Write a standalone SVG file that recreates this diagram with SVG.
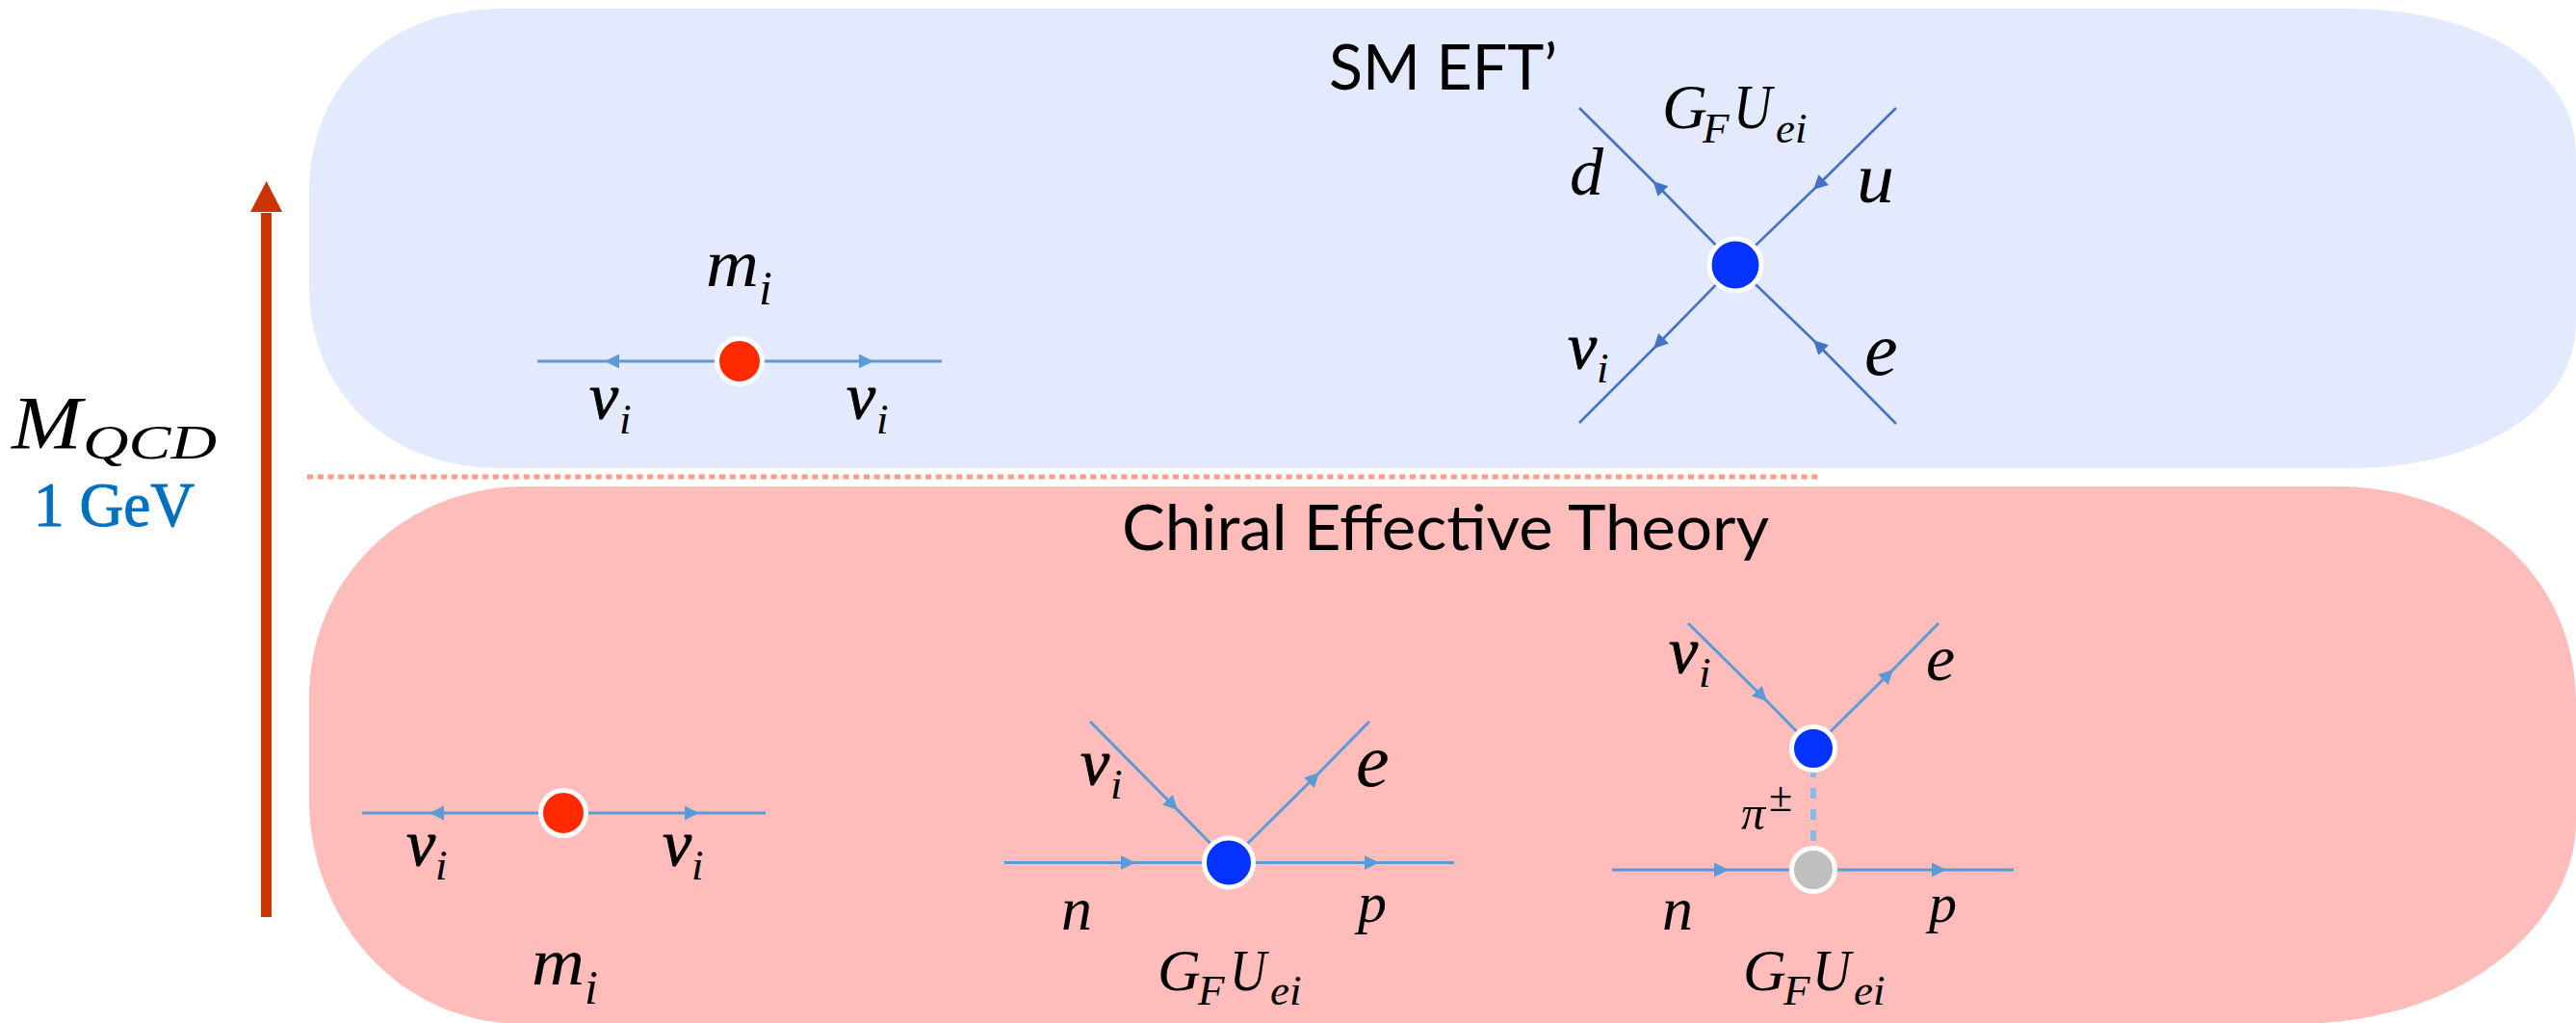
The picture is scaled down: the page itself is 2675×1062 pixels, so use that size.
<svg xmlns="http://www.w3.org/2000/svg" width="2675" height="1062" viewBox="0 0 2675 1062">
<style>
text{font-family:"Liberation Serif","Times New Roman",serif;fill:#000}
.m{font-style:italic}
.s{font-size:45px}
.nu{font-size:68px;stroke:#000;stroke-width:.9px}
.l{font-size:78px}
.t{font-family:Lato,"Open Sans",sans-serif;font-size:66px}
.lb{fill:none;stroke:#5B9BD5;stroke-width:3;marker-mid:url(#al)}
.db{fill:none;stroke:#4472C4;stroke-width:2.6;marker-mid:url(#ad)}
.v{stroke:#fff;stroke-width:5}
.red{fill:#FF2A00}.blue{fill:#0433FF}.gray{fill:#BFBFBF}
</style>
<defs>
<marker id="al" markerUnits="userSpaceOnUse" markerWidth="17" markerHeight="17" refX="15" refY="8" orient="auto"><path d="M0 0.5L15 8L0 15.5Z" fill="#5B9BD5"/></marker>
<marker id="ad" markerUnits="userSpaceOnUse" markerWidth="17" markerHeight="17" refX="15" refY="8" orient="auto"><path d="M0 0.5L15 8L0 15.5Z" fill="#4472C4"/></marker>
</defs>
<rect width="2675" height="1062" fill="#fff"/>
<g id="panels">
<path id="panel-sm" fill="#E4EAFE" d="M321 200C321 90 400 9 520 9H2440C2560 9 2675 60 2675 163V332C2675 435 2560 486 2440 486H520C400 486 321 405 321 297Z"/>
<path id="panel-chiral" fill="#FEBDBA" d="M321 725C321 600 420 505 545 505H2425C2560 505 2675 590 2675 732V854C2675 950 2570 1063 2380 1063H545C410 1063 321 950 321 830Z"/>
</g>
<path id="divider" d="M319 495H1889" fill="none" stroke="#FF9B8A" stroke-width="5" stroke-dasharray="6.2 4.5"/>
<g id="scale">
<rect x="271" y="221" width="11" height="731" fill="#CC3300"/>
<path d="M276.700 188L293 220H260Z" fill="#CC3300"/>
<text class="m" x="12" y="465" font-size="78" textLength="73" lengthAdjust="spacingAndGlyphs">M</text>
<text class="m" x="86" y="476" font-size="50" textLength="139" lengthAdjust="spacingAndGlyphs">QCD</text>
<text x="35" y="546" font-size="66" style="fill:#0070C0;stroke:#0070C0;stroke-width:1px" textLength="167" lengthAdjust="spacingAndGlyphs">1 GeV</text>
</g>
<g id="connectors">
<path class="db" d="M1802 275L1716.500 188L1640 112"/>
<path class="db" d="M1969 112L1883 197L1802 275"/>
<path class="db" d="M1802 275L1717 362L1640 439"/>
<path class="db" d="M1969 440L1883 353L1802 275"/>
<path class="lb" d="M768 375L628 375L558 375"/>
<path class="lb" d="M768 375L907 375L978 375"/>
<path class="lb" d="M585 844L446 844L376 844"/>
<path class="lb" d="M585 844L726 844L795 844"/>
<path class="lb" d="M1043 895.500L1179 895.500L1276 895.500"/>
<path class="lb" d="M1276 895.500L1432 895.500L1510 895.500"/>
<path class="lb" d="M1132 749L1223 841L1276 895"/>
<path class="lb" d="M1276 895L1370 802L1422 749"/>
<path class="lb" d="M1753 647L1835 728L1883 777"/>
<path class="lb" d="M1883 777L1966 695L2013 647"/>
<path class="lb" d="M1674 903L1795 903L1883 903"/>
<path class="lb" d="M1883 903L2021 903L2091 903"/>
<path d="M1883 796V873" fill="none" stroke="#8DB9E5" stroke-width="6" stroke-dasharray="11 11"/>
</g>
<g id="title-sm"><text class="t" x="1380" y="93" textLength="237" lengthAdjust="spacingAndGlyphs">SM EFT’</text></g>
<g id="title-chiral"><text class="t" x="1165" y="571" textLength="672" lengthAdjust="spacingAndGlyphs">Chiral Effective Theory</text></g>
<g id="vertex-sm-mass">
<circle class="v red" cx="768" cy="375" r="23.500"/>
<text class="m" x="733" y="297" font-size="70" textLength="55" lengthAdjust="spacingAndGlyphs">m</text>
<text class="m" font-size="50" x="788" y="316">i</text>
<text class="m nu" x="612" y="434">ν</text><text class="m s" x="643" y="450">i</text>
<text class="m nu" x="879" y="434">ν</text><text class="m s" x="910" y="450">i</text>
</g>
<g id="vertex-sm-fermi">
<circle class="v blue" cx="1802" cy="275" r="27"/>
<text class="m" x="1726" y="133" font-size="65">G</text>
<text class="m s" x="1768" y="148">F</text>
<text class="m" x="1800" y="133" font-size="65" textLength="40" lengthAdjust="spacingAndGlyphs">U</text>
<text class="m s" x="1844" y="148">ei</text>
<text class="m" x="1630" y="202" font-size="70">d</text>
<text class="m" font-size="75" x="1928" y="210" textLength="39" lengthAdjust="spacingAndGlyphs">u</text>
<text class="m l" x="1936" y="389">e</text>
<text class="m nu" x="1628" y="382">ν</text><text class="m s" x="1658" y="397">i</text>
</g>
<g id="vertex-chiral-mass">
<circle class="v red" cx="585" cy="844" r="23.500"/>
<text class="m nu" x="422" y="898">ν</text><text class="m s" x="452" y="913">i</text>
<text class="m nu" x="688" y="898">ν</text><text class="m s" x="718" y="913">i</text>
<text class="m" x="552" y="1022" font-size="70" textLength="55" lengthAdjust="spacingAndGlyphs">m</text>
<text class="m" font-size="50" x="607" y="1042">i</text>
</g>
<g id="vertex-chiral-fermi">
<circle class="v blue" cx="1276" cy="895.500" r="25.500"/>
<text class="m nu" x="1122" y="814">ν</text><text class="m s" x="1153" y="829">i</text>
<text class="m l" x="1408" y="816">e</text>
<text class="m" x="1102" y="965" font-size="64">n</text>
<text class="m" x="1410" y="957" font-size="60">p</text>
<text class="m" x="1202" y="1028" font-size="62">G</text>
<text class="m s" x="1244" y="1043">F</text>
<text class="m" x="1277" y="1028" font-size="62" textLength="38" lengthAdjust="spacingAndGlyphs">U</text>
<text class="m s" x="1319" y="1043">ei</text>
</g>
<g id="vertex-chiral-pion">
<circle class="v blue" cx="1883" cy="777" r="22.500"/>
<circle class="v gray" cx="1883" cy="903" r="22.500"/>
<text class="m nu" x="1733" y="698">ν</text><text class="m s" x="1764" y="713">i</text>
<text class="m" x="2000" y="706" font-size="68">e</text>
<text class="m" x="1808" y="861" font-size="50">π</text>
<text x="1837" y="842" font-size="44">±</text>
<text class="m" x="1726" y="965" font-size="64">n</text>
<text class="m" x="2003" y="957" font-size="58">p</text>
<text class="m" x="1810" y="1028" font-size="62">G</text>
<text class="m s" x="1852" y="1043">F</text>
<text class="m" x="1882" y="1028" font-size="62" textLength="40" lengthAdjust="spacingAndGlyphs">U</text>
<text class="m s" x="1925" y="1043">ei</text>
</g>
</svg>
